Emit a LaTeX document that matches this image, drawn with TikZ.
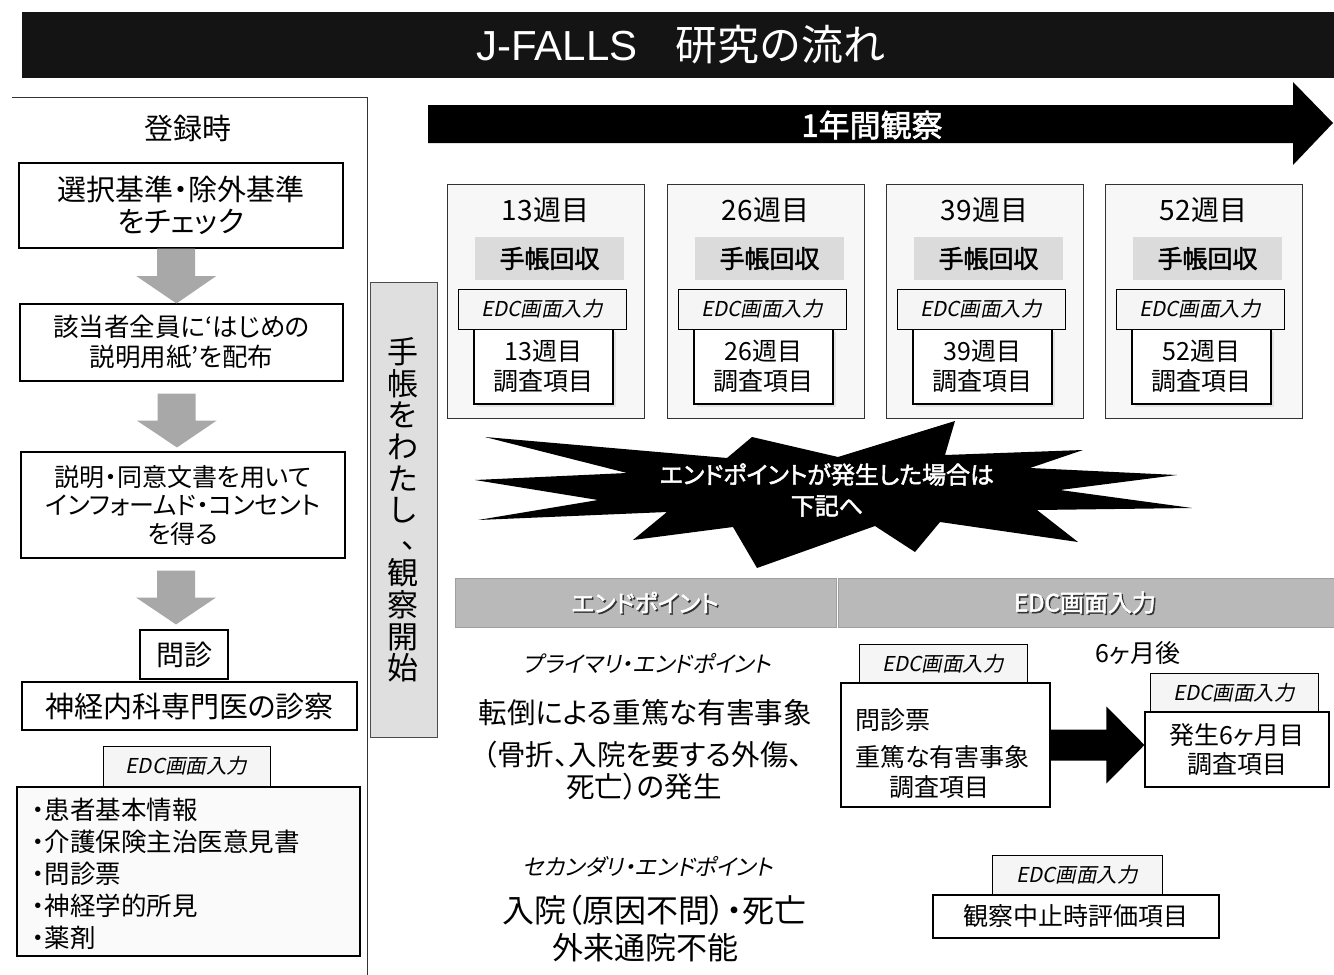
\documentclass[tikz,border=0pt]{standalone}
\usepackage{fontspec}
\setmainfont{Noto Sans CJK JP}[RawFeature=+palt]
\newfontfamily\jpit{Noto Sans CJK JP}[FakeSlant=0.2,RawFeature=+palt]
\newfontfamily\jpbf{Noto Sans CJK JP}[FakeBold=2,RawFeature=+palt]
\newfontfamily\jpfull{Noto Sans CJK JP}
\newfontfamily\latf{Liberation Sans}
\usetikzlibrary{calc,shadows}
\newcommand\fs[2]{\fontsize{#1}{#2}\selectfont}
\tikzset{
  bx/.style={draw=black, line width=1.1pt, fill=white, inner sep=0pt, align=center},
  wkbox/.style={draw=black!80, line width=1pt, fill=gray!6, inner sep=0pt},
  band/.style={fill=gray!28, inner sep=0pt},
  edcbox/.style={draw=black, line width=1pt, fill=gray!8, inner sep=0pt, font=\jpit\fs{20.5}{22}},
  itembox/.style={bx, drop shadow={shadow xshift=3pt, shadow yshift=-3pt, fill=gray!35}},
  hdr/.style={fill=gray!55, draw=gray!75, line width=0.8pt, inner sep=0pt, minimum height=49pt},
  hdrtxt/.style={text=white, font=\jpbf\fs{24}{26}},
  hdrsh/.style={text=black!80, font=\jpbf\fs{24}{26}},
  garrowc/.style={fill=gray!68},
  txt/.style={inner sep=0pt, align=center},
}
\newcommand\garrow[2]{%
  \fill[garrowc] ($(#1)+(-19,0)$) -- ($(#1)+(19,0)$) -- ($(#1)!0.5!(#2)+(19,0)$) -- ($(#1)!0.5!(#2)+(40,0)$) -- (#2) -- ($(#1)!0.5!(#2)+(-40,0)$) -- ($(#1)!0.5!(#2)+(-19,0)$) -- cycle;}
\begin{document}
\begin{tikzpicture}[x=1pt,y=-1pt]
\useasboundingbox (0,0) rectangle (1334,975);
\fill[white] (0,0) rectangle (1334,975);

% title bar
\fill[black!92] (22,12) rectangle (1334,78);
\node[txt, text=white] (title) at (681,45) {\latf\fs{42}{44}J-FALLS\hspace{0.9em}\jpfull 研究の流れ};

% left panel
\draw[line width=1pt, black!80] (12,97) -- (367,97) -- (367,975);
\node[txt, font=\fs{29}{32}] (reg) at (188,128) {登録時};
\node[bx, minimum width=324pt, minimum height=85pt, font=\fs{29}{32}] (b1) at (181,205.5) {選択基準・除外基準\\をチェック};
\node[bx, minimum width=323pt, minimum height=77pt, font=\fs{25.5}{30}] (b2) at (181.5,342.5) {該当者全員に‘はじめの\\説明用紙’を配布};
\node[bx, minimum width=324pt, minimum height=106pt, font=\fs{25}{28.5}] (b3) at (183,505) {説明・同意文書を用いて\\インフォームド・コンセント\\を得る};
\node[bx, minimum width=88pt, minimum height=49pt, font=\fs{28}{30}] (b4) at (184,654.5) {問診};
\node[bx, minimum width=335pt, minimum height=48pt, font=\fs{29}{30}] (b5) at (189.5,706) {神経内科専門医の診察};
\node[edcbox, minimum width=167pt, minimum height=40pt] (e0) at (186.5,766) {EDC画面入力};
\node[bx, fill=gray!4, minimum width=343pt, minimum height=169pt] (b6) at (188.5,871.5) {};
\node[txt, anchor=west, align=left, font=\fs{25.5}{32}] (lst) at (32,874) {・患者基本情報\\・介護保険主治医意見書\\・問診票\\・神経学的所見\\・薬剤};

\coordinate (a1s) at ($(b1.south)+(-5,0)$);
\coordinate (a1e) at ($(b2.north)+(-5,0)$);
\coordinate (a2s) at ($(b2.south)+(-5,12)$);
\coordinate (a2e) at ($(b3.north)+(-6,-4)$);
\coordinate (a3s) at ($(b3.south)+(-7,12)$);
\coordinate (a3e) at ($(b4.north)+(-8,-5)$);
\garrow{a1s}{a1e}
\garrow{a2s}{a2e}
\garrow{a3s}{a3e}

% vertical box
\node[fill=gray!25, draw=black!70, line width=0.8pt, inner sep=0pt, minimum width=67pt, minimum height=455pt] (vb) at (403.5,509.5) {};
\node[txt, font=\jpfull\fs{31}{31.6}] (vt) at (403,510) {手\\帳\\を\\わ\\た\\し\\\makebox[1em][l]{\hspace{0.45em}\raisebox{0.15em}{、}}\\観\\察\\開\\始};

% 1 year arrow
\fill[black] (428,105) -- (1293,105) -- (1293,82) -- (1333,123) -- (1293,165) -- (1293,143) -- (428,143) -- cycle;
\node[txt, text=white, font=\jpbf\fs{31}{32}] (yr) at (872,125) {1年間観察};

% week boxes
\foreach \L/\n [count=\i] in {447/13,667/26,886/39,1105/52} {
  \node[wkbox, minimum width=197pt, minimum height=234pt] (w\i) at (\L+98.5,301) {};
  \node[txt, font=\fs{28}{30}] (wl\i) at (\L+98.5,210) {{\n}週目};
  \node[band, minimum width=149pt, minimum height=43pt, font=\jpbf\fs{25}{28}] (wb\i) at (\L+102.5,258.5) {手帳回収};
  \node[itembox, minimum width=139pt, minimum height=75pt, font=\fs{25}{30}] (wi\i) at (\L+96.5,366.5) {{\n}週目\\調査項目};
  \node[edcbox, minimum width=168pt, minimum height=40pt] (we\i) at (\L+95,309) {EDC画面入力};
}

% starburst
\fill[black] (485,437) -- (727,458) -- (752,437) -- (838,457) -- (955,421) -- (945,455) -- (1083,450) -- (1030,468) -- (1177,475) -- (1060,490) -- (1192,508) -- (1037,510) -- (1078,542) -- (940,522) -- (915,552) -- (875,526) -- (757,568) -- (733,527) -- (633,540) -- (667,512) -- (478,520) -- (598,500) -- (475,480) -- (627,473) -- cycle;
\node[txt, text=white, font=\jpbf\fs{24}{31}] (burst) at (827,490) {エンドポイントが発生した場合は\\下記へ};

% header bar
\node[hdr, minimum width=381pt] (h1) at (645.5,602.5) {};
\node[hdr, minimum width=496pt] (h2) at (1086,602.5) {};
\node[hdrsh] (h1s) at (646.5,604) {エンドポイント};
\node[hdrtxt] (h1t) at (645,602.5) {エンドポイント};
\node[hdrsh] (h2s) at (1086.5,604) {EDC画面入力};
\node[hdrtxt] (h2t) at (1085,602.5) {EDC画面入力};

% endpoints text
\node[txt, font=\jpit\fs{22.5}{24}] (p1) at (647,663) {プライマリ・エンドポイント};
\node[txt, font=\fs{28.5}{30}] (p2) at (645,713) {転倒による重篤な有害事象};
\node[txt, font=\fs{28.5}{30}] (p3) at (643,755) {（骨折、入院を要する外傷、};
\node[txt, font=\fs{28.5}{30}] (p4) at (644,787) {死亡）の発生};
\node[txt, font=\jpit\fs{22.5}{24}] (s1) at (648,867) {セカンダリ・エンドポイント};
\node[txt, font=\fs{32}{33}] (s2) at (654,910) {入院（原因不問）・死亡};
\node[txt, font=\fs{31}{33}] (s3) at (645,948) {外来通院不能};

% EDC right side
\node[edcbox, minimum width=168pt, minimum height=39pt] (e1) at (943,663.5) {EDC画面入力};
\node[bx, minimum width=209pt, minimum height=124pt] (r1) at (945.5,745) {};
\node[txt, anchor=west, font=\fs{25}{28}] (r1a) at (855,720) {問診票};
\node[txt, anchor=west, font=\fs{25}{28}] (r1b) at (855,757) {重篤な有害事象};
\node[txt, font=\fs{25}{28}] (r1c) at (939,787) {調査項目};
\node[txt, font=\fs{25}{28}] (six) at (1138,653) {6ヶ月後};
\node[edcbox, minimum width=168pt, minimum height=39pt] (e2) at (1234,692.5) {EDC画面入力};
\node[bx, minimum width=184pt, minimum height=75pt, font=\fs{25}{29}] (r2) at (1237,749.5) {発生6ヶ月目\\調査項目};
\coordinate (ta) at (r1.east);
\coordinate (tb) at (ta -| r2.west);
\fill[black] ($(ta)+(0,-15.5)$) -- ($(tb)+(-38,-15.5)$) -- ($(tb)+(-38,-38.5)$) -- (tb) -- ($(tb)+(-38,38.5)$) -- ($(tb)+(-38,15.5)$) -- ($(ta)+(0,15.5)$) -- cycle;
\node[edcbox, minimum width=170pt, minimum height=40pt] (e3) at (1077,875) {EDC画面入力};
\node[bx, minimum width=286pt, minimum height=43pt, font=\fs{25}{28}] (r3) at (1076,916.5) {観察中止時評価項目};
\end{tikzpicture}
\end{document}
